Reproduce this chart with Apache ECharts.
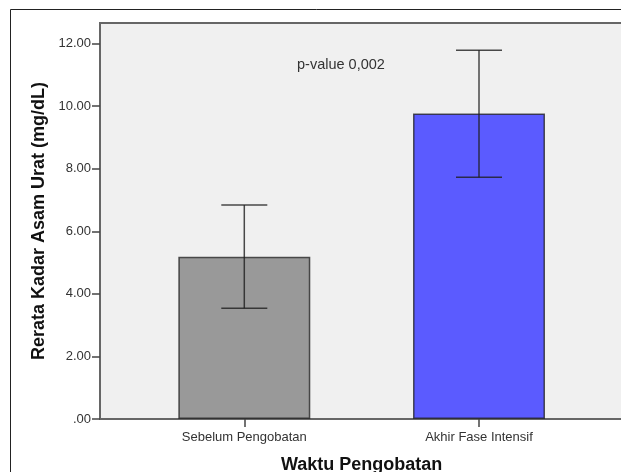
<!DOCTYPE html>
<html>
<head>
<meta charset="utf-8">
<script src="https://cdn.jsdelivr.net/npm/echarts@6/dist/echarts.min.js"></script>
<style>
html,body{margin:0;padding:0;background:#fff;}
#chart{width:621px;height:472px;}
</style>
</head>
<body>
<div id="chart"></div>
<script>
const categories = ['Sebelum Pengobatan', 'Akhir Fase Intensif'];
const means = [5.19, 9.77];
const ciLow = [3.54, 7.73];
const ciHigh = [6.84, 11.79];
const barColors = ['#999999', '#5b5bff'];
const yTickValues = [0, 2, 4, 6, 8, 10, 12];
const yMax = 12.66;
const annotation = 'p-value 0,002';
const yTitle = 'Rerata Kadar Asam Urat (mg/dL)';
const xTitle = 'Waktu Pengobatan';

const FONT = '"Liberation Sans", Arial, sans-serif';
const chart = echarts.init(document.getElementById('chart'));

const option = {
  animation: false,
  backgroundColor: '#ffffff',
  grid: [
    { left: 100, top: 23, right: -2, bottom: 53, show: true, backgroundColor: '#f0f0f0', borderColor: '#666666', borderWidth: 2, containLabel: false, outerBoundsMode: 'none' },
    { left: 126.95, top: 23, width: 469.4, bottom: 53, show: false, containLabel: false, outerBoundsMode: 'none' }
  ],
  xAxis: [
    { gridIndex: 0, type: 'category', data: [''], show: false },
    {
      gridIndex: 1, type: 'category', data: categories, boundaryGap: true,
      axisLine: { show: false },
      axisTick: { show: true, alignWithLabel: true, length: 8, lineStyle: { color: '#444', width: 1.5 } },
      axisLabel: { color: '#333', fontFamily: FONT, fontSize: 13, margin: 12 },
      name: xTitle, nameLocation: 'middle', nameGap: 37,
      nameTextStyle: { color: '#111', fontFamily: FONT, fontSize: 18, fontWeight: 'bold' }
    }
  ],
  yAxis: [
    {
      gridIndex: 0, type: 'value', min: 0, max: yMax,
      axisLine: { show: false },
      splitLine: { show: false },
      axisTick: { show: true, length: 8, customValues: yTickValues, lineStyle: { color: '#444', width: 1.5 } },
      axisLabel: {
        customValues: yTickValues, color: '#333', fontFamily: FONT, fontSize: 13, margin: 9,
        formatter: v => v === 0 ? '.00' : v.toFixed(2)
      },
      name: yTitle, nameLocation: 'middle', nameGap: 52,
      nameTextStyle: { color: '#111', fontFamily: FONT, fontSize: 18, fontWeight: 'bold' }
    },
    { gridIndex: 1, type: 'value', min: 0, max: yMax, show: false }
  ],
  series: [
    {
      type: 'bar', xAxisIndex: 1, yAxisIndex: 1, barWidth: 132,
      data: means.map((v, i) => ({ value: v, itemStyle: { color: barColors[i] } })),
      itemStyle: { borderColor: 'rgba(30,30,30,0.75)', borderWidth: 1.5 },
      z: 2
    },
    {
      type: 'custom', xAxisIndex: 1, yAxisIndex: 1, z: 5,
      data: categories.map((c, i) => [i, ciLow[i], ciHigh[i]]),
      renderItem: function (params, api) {
        const lo = api.coord([api.value(0), api.value(1)]);
        const hi = api.coord([api.value(0), api.value(2)]);
        const hw = 23;
        const st = { stroke: 'rgba(30,30,30,0.8)', lineWidth: 1.5 };
        return {
          type: 'group',
          children: [
            { type: 'line', shape: { x1: lo[0], y1: lo[1], x2: hi[0], y2: hi[1] }, style: st },
            { type: 'line', shape: { x1: lo[0] - hw, y1: lo[1], x2: lo[0] + hw, y2: lo[1] }, style: st },
            { type: 'line', shape: { x1: hi[0] - hw, y1: hi[1], x2: hi[0] + hw, y2: hi[1] }, style: st }
          ]
        };
      }
    }
  ],
  graphic: [
    { type: 'rect', shape: { x: 10.5, y: 9.5, width: 800, height: 600 }, style: { fill: 'none', stroke: '#222', lineWidth: 1 }, z: 100 },
    { type: 'text', left: 297, top: 57, style: { text: annotation, fill: '#333', font: '14.5px ' + FONT }, z: 100 }
  ]
};
chart.setOption(option);
</script>
</body>
</html>
